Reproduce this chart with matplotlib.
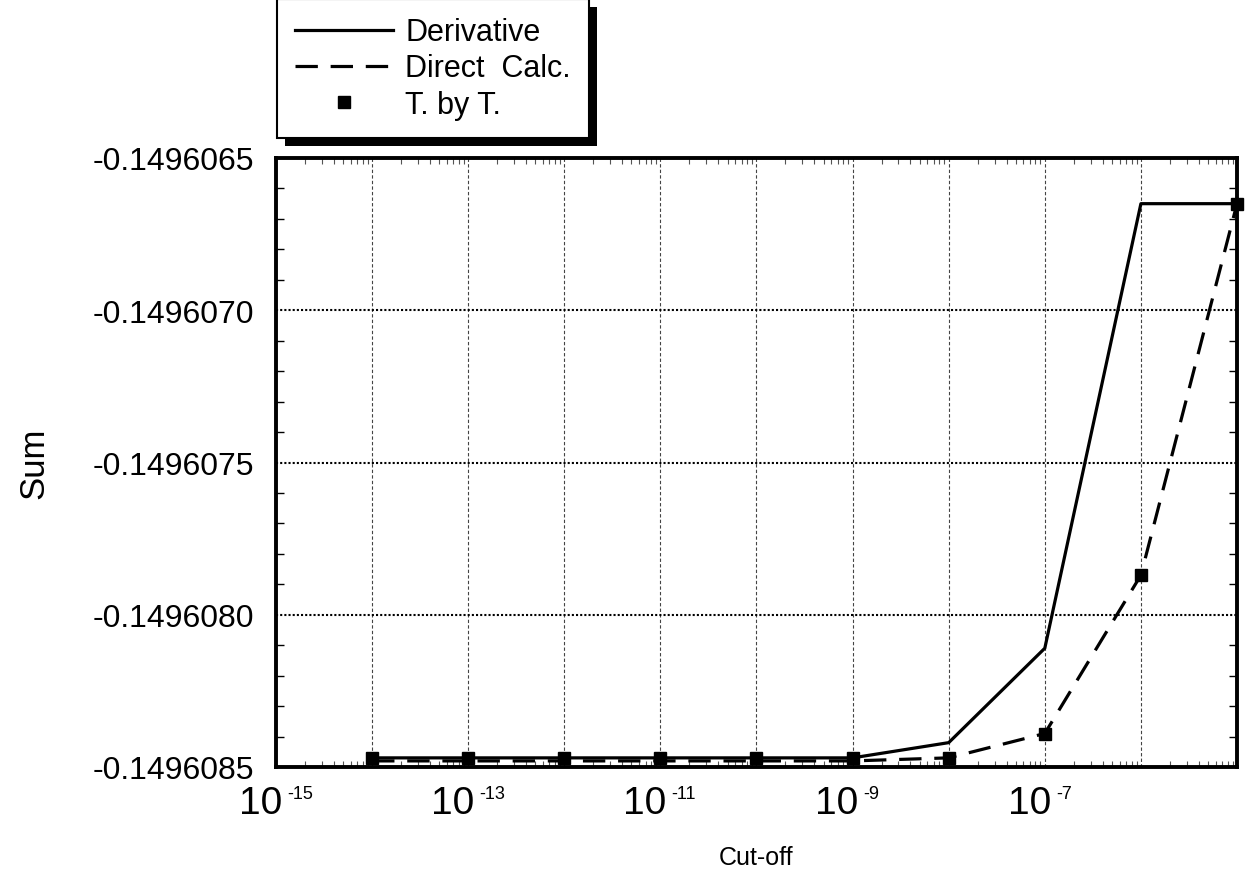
import numpy as np
import matplotlib
matplotlib.use('Agg')
import matplotlib.pyplot as plt
import matplotlib.transforms as mtransforms
from matplotlib.ticker import LogLocator, FuncFormatter, MultipleLocator, NullFormatter
from matplotlib.patches import Rectangle

plt.rcParams['font.family'] = ['Liberation Sans', 'DejaVu Sans']

# dados
cutoff = [1e-14, 1e-13, 1e-12, 1e-11, 1e-10, 1e-9, 1e-8, 1e-7, 1e-6, 1e-5]
derivative = [-0.14960847, -0.14960847, -0.14960847, -0.14960847, -0.14960847,
              -0.14960847, -0.14960842, -0.14960811, -0.14960665, -0.14960665]
direct = [-0.14960848, -0.14960848, -0.14960848, -0.14960848, -0.14960848,
          -0.14960848, -0.14960847, -0.14960839, -0.14960787, -0.14960665]
tbyt = [-0.14960847, -0.14960847, -0.14960847, -0.14960847, -0.14960847,
        -0.14960847, -0.14960847, -0.14960839, -0.14960787, -0.14960665]
label_exps = [-15, -13, -11, -9, -7]

fig = plt.figure(figsize=(12.47, 8.79), dpi=100)
ax = fig.add_axes([276/1247, 1 - 768/879, 961/1247, 609/879])

l1, = ax.plot(cutoff, derivative, color='black', lw=2.3, ls='-', label='Derivative', clip_on=False, zorder=3)
l2, = ax.plot(cutoff, direct, color='black', lw=2.3, ls=(0, (7, 4)), label='Direct  Calc.', clip_on=False, zorder=3)
l3, = ax.plot(cutoff, tbyt, ls='none', marker='s', ms=8, color='black', label='T. by T.', clip_on=False, zorder=4)

ax.set_xscale('log')
ax.set_xlim(1e-15, 1e-5)
ax.set_ylim(-0.1496085, -0.1496065)

ax.xaxis.set_major_locator(LogLocator(base=10, numticks=20))
ax.xaxis.set_minor_locator(LogLocator(base=10, subs=np.arange(2, 10), numticks=20))
ax.xaxis.set_minor_formatter(NullFormatter())

def fmt_x(v, pos):
    e = int(round(np.log10(v)))
    return '10' if e in label_exps else ''

ax.xaxis.set_major_formatter(FuncFormatter(fmt_x))
ax.yaxis.set_major_locator(MultipleLocator(5e-7))
ax.yaxis.set_minor_locator(MultipleLocator(1e-7))
ax.yaxis.set_major_formatter(FuncFormatter(lambda v, p: '%.7f' % v))

ax.tick_params(axis='x', which='major', direction='in', length=0, labelsize=28, pad=13, top=True)
ax.tick_params(axis='x', which='minor', direction='in', length=4.5, width=0.8, color='#555555', top=True)
ax.tick_params(axis='y', which='major', direction='in', length=0, labelsize=23, pad=16, right=True)
ax.tick_params(axis='y', which='minor', direction='in', length=6, width=1.0, right=True)

# "10" um pouco a direita do tick, expoente logo depois
shift = mtransforms.ScaledTranslation(6/100, 0, fig.dpi_scale_trans)
for lab in ax.get_xticklabels():
    lab.set_ha('right')
    lab.set_transform(lab.get_transform() + shift)

trans = mtransforms.blended_transform_factory(ax.transData, ax.transAxes)
trans = trans + mtransforms.ScaledTranslation(11/100, 0, fig.dpi_scale_trans)
for e in label_exps:
    ax.text(10.0**e, -0.029, '-%d' % abs(e), transform=trans, fontsize=13,
            ha='left', va='top')

ax.grid(True, axis='x', which='major', ls=(0, (3, 2)), lw=0.8, color='#444444')
ax.grid(True, axis='y', which='major', ls=(0, (1, 1)), lw=1.5, color='black')

for s in ax.spines.values():
    s.set_linewidth(2.8)

ax.set_xlabel('Cut-off', fontsize=18)
ax.xaxis.set_label_coords(0.5, -0.128)
ax.set_ylabel('Sum', fontsize=25)
ax.yaxis.set_label_coords(-0.235, 0.5)

leg = fig.legend(handles=[l1, l2, l3], loc='upper left', bbox_to_anchor=(277/1247, 1.0),
                 fontsize=22, frameon=True, fancybox=False, shadow=False,
                 handlelength=3.2, handletextpad=0.4, labelspacing=0.2,
                 borderpad=0.6, borderaxespad=0.0)
leg.get_frame().set_edgecolor('black')
leg.get_frame().set_linewidth(1.5)
leg.get_frame().set_alpha(1)
leg.set_zorder(10)

fig.canvas.draw()
bb = leg.get_window_extent()
W, H = fig.bbox.width, fig.bbox.height
fig.patches.append(Rectangle(((bb.x0 + 8) / W, (bb.y0 - 8) / H), bb.width / W, bb.height / H,
                             transform=fig.transFigure, facecolor='black', edgecolor='none', zorder=5))

fig.savefig('out.png', dpi=100)
